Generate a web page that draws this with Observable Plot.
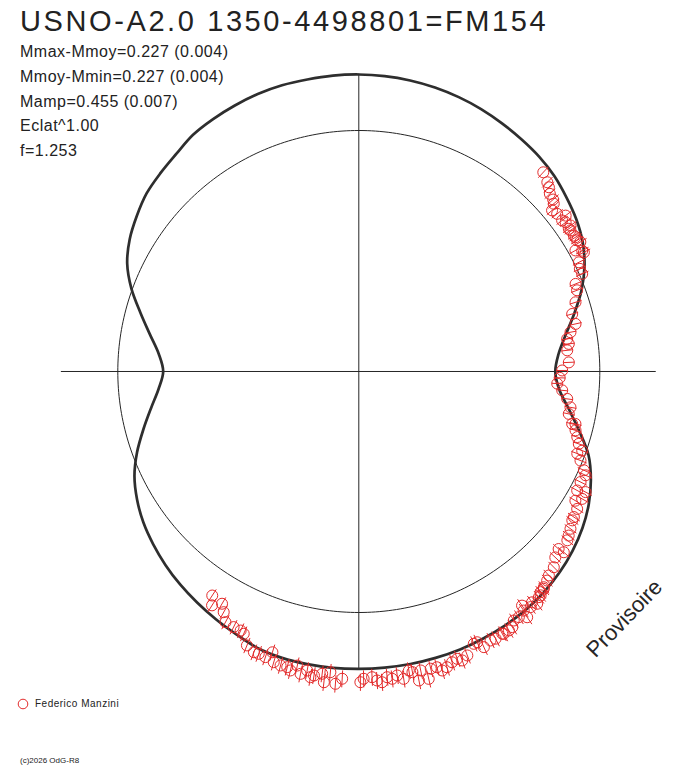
<!DOCTYPE html>
<html>
<head>
<meta charset="utf-8">
<script src="https://cdn.jsdelivr.net/npm/d3@7"></script>
<script src="https://cdn.jsdelivr.net/npm/@observablehq/plot@0.6"></script>
<style>
  html, body { margin: 0; padding: 0; background: #fff; }
  #wrap { position: relative; width: 688px; height: 768px; overflow: hidden; font-family: "Liberation Sans", Arial, sans-serif; color: #222; }
  #chart { position: absolute; left: 0; top: 0; }
  .t { position: absolute; white-space: nowrap; line-height: 1; }
  #title { left: 20px; top: 7px; font-size: 29px; letter-spacing: 2.6px; }
  .stat { left: 20px; font-size: 16px; letter-spacing: 0.5px; }
  #legend { left: 17px; top: 698px; font-size: 10px; letter-spacing: 0.5px; display: flex; align-items: center; }
  #legend svg { margin-right: 6px; }
  #copy { left: 20px; top: 757px; font-size: 8px; }
</style>
</head>
<body>
<div id="wrap">
  <div id="chart"></div>
  <div class="t" id="title"></div>
  <div id="stats"></div>
  <div class="t" id="legend"><svg width="12" height="12"><circle cx="6" cy="6" r="4.8" fill="none" stroke="#e32b2b" stroke-width="1"/></svg><span id="observer"></span></div>
  <div class="t" id="copy"></div>
</div>
<script>
// ---- texts ----
const titleText = "USNO-A2.0 1350-4498801=FM154";
const statLines = ["Mmax-Mmoy=0.227 (0.004)", "Mmoy-Mmin=0.227 (0.004)", "Mamp=0.455 (0.007)", "Eclat^1.00", "f=1.253"];
const observerName = "Federico Manzini";
const copyText = "(c)2026 OdG-R8";
const watermark = "Provisoire";

// ---- fitted light curve: phase (0..1, clockwise from top) and magnitude relative to Mmoy ----
const curvePhase = [0.000,0.0139,0.0278,0.0417,0.0556,0.0694,0.0833,0.0972,0.1111,0.1250,0.1389,0.1528,0.1667,0.1806,0.1944,0.2083,0.2222,0.2361,0.2500,0.2639,0.2778,0.2917,0.3056,0.3194,0.3333,0.3472,0.3611,0.3750,0.3889,0.4028,0.4167,0.4306,0.4444,0.4583,0.4722,0.4861,0.5000,0.5139,0.5278,0.5417,0.5556,0.5694,0.5833,0.5972,0.6111,0.6250,0.6389,0.6528,0.6667,0.6806,0.6944,0.7083,0.7222,0.7361,0.7500,0.7639,0.7778,0.7917,0.8056,0.8194,0.8333,0.8472,0.8611,0.8750,0.8889,0.9028,0.9167,0.9306,0.9444,0.9583,0.9722,0.9861];
const curveMag = [-0.2269,-0.2250,-0.2214,-0.2159,-0.2084,-0.1991,-0.1877,-0.1763,-0.1648,-0.1492,-0.1274,-0.1051,-0.0761,-0.0355,0.0182,0.0843,0.1495,0.1998,0.2217,0.1971,0.1341,0.0602,-0.0157,-0.0656,-0.1051,-0.1354,-0.1590,-0.1783,-0.1934,-0.2047,-0.2121,-0.2177,-0.2225,-0.2250,-0.2269,-0.2276,-0.2280,-0.2284,-0.2276,-0.2250,-0.2177,-0.2009,-0.1858,-0.1705,-0.1550,-0.1373,-0.1173,-0.0949,-0.0656,-0.0289,0.0228,0.0843,0.1444,0.1971,0.2266,0.1982,0.1392,0.0698,-0.0045,-0.0635,-0.1010,-0.1274,-0.1512,-0.1648,-0.1783,-0.1972,-0.2065,-0.2140,-0.2206,-0.2243,-0.2250,-0.2269];

// ---- observations: phase and magnitude relative to Mmoy ----
const obsPhase = [0.1189,0.1247,0.1275,0.1308,0.1347,0.1369,0.1394,0.1431,0.1472,0.1483,0.1506,0.1539,0.1550,0.1564,0.1603,0.1617,0.1639,0.1658,0.1689,0.1711,0.1725,0.1767,0.1808,0.1844,0.1889,0.1933,0.2008,0.2081,0.2156,0.2208,0.2253,0.2292,0.2339,0.2431,0.2492,0.2550,0.2597,0.2647,0.2708,0.2767,0.2817,0.2878,0.2883,0.2922,0.2964,0.3006,0.3042,0.3072,0.3108,0.3158,0.3183,0.3236,0.3278,0.3294,0.3325,0.3356,0.3394,0.3447,0.3469,0.3517,0.3556,0.3583,0.3650,0.3656,0.3706,0.3753,0.3806,0.3833,0.3872,0.3878,0.3903,0.3914,0.3928,0.3958,0.3975,0.3997,0.4031,0.4039,0.4044,0.4081,0.4114,0.4139,0.4164,0.4197,0.4203,0.4247,0.4275,0.4322,0.4344,0.4364,0.4419,0.4453,0.4475,0.4506,0.4539,0.4567,0.4589,0.4622,0.4644,0.4675,0.4694,0.4719,0.4736,0.4769,0.4800,0.4828,0.4853,0.4881,0.4906,0.4931,0.4975,0.4992,0.5086,0.5119,0.5150,0.5178,0.5192,0.5233,0.5250,0.5272,0.5303,0.5328,0.5358,0.5378,0.5414,0.5453,0.5475,0.5503,0.5542,0.5569,0.5617,0.5658,0.5681,0.5725,0.5778,0.5814,0.5847,0.5892,0.5922];
const obsMag = [-0.1294,-0.1116,-0.1019,-0.0861,-0.0803,-0.0706,-0.0467,-0.0544,-0.0782,-0.0540,-0.0613,-0.0706,-0.0566,-0.0587,-0.0587,-0.0609,-0.0600,-0.0681,-0.0319,-0.0570,-0.0600,-0.0210,-0.0121,-0.0125,0.0330,0.0372,0.0627,0.0941,0.0897,0.1225,0.1449,0.1403,0.1521,0.1485,0.1843,0.1971,0.2091,0.1795,0.1485,0.1255,0.1281,0.0848,0.1005,0.0766,0.0598,0.0432,0.0182,0.0349,0.0095,-0.0214,-0.0372,-0.0302,-0.0689,-0.0341,-0.0702,-0.0493,-0.0740,-0.0812,-0.0836,-0.0977,-0.1088,-0.1165,-0.1365,-0.1124,-0.1254,-0.1484,-0.1582,-0.1683,-0.1790,-0.1836,-0.1855,-0.1950,-0.1961,-0.2117,-0.1957,-0.2069,-0.1836,-0.2025,-0.2301,-0.2128,-0.2132,-0.2312,-0.2352,-0.2367,-0.2337,-0.2385,-0.2360,-0.2475,-0.2213,-0.2217,-0.2521,-0.2624,-0.2511,-0.2568,-0.2684,-0.2748,-0.2589,-0.2585,-0.2914,-0.2568,-0.2900,-0.2571,-0.2493,-0.2755,-0.2607,-0.2702,-0.2628,-0.2790,-0.2716,-0.2592,-0.2639,-0.2758,-0.2653,-0.2845,-0.2450,-0.2827,-0.2539,-0.2639,-0.2716,-0.2500,-0.2660,-0.2392,-0.2617,-0.2528,-0.2528,-0.2482,-0.2150,-0.2396,-0.2360,-0.2367,-0.2228,-0.1874,-0.1810,-0.1806,-0.1779,-0.1472,-0.1214,-0.1476,-0.1141];
const obsErr = 0.03;
const maxMag = -0.2284;

// ---- polar helpers (radius = relative flux, Eclat^1.00) ----
const rho = m => Math.pow(10, -0.4 * m);
const px = (ph, m) => rho(m) * Math.sin(2 * Math.PI * ph);
const py = (ph, m) => rho(m) * Math.cos(2 * Math.PI * ph);

const curveIdx = d3.range(curvePhase.length);
const obsIdx = d3.range(obsPhase.length);
const refPhases = d3.range(0, 1.0001, 1 / 360);
const rMax = rho(maxMag);

const ink = "#262626";
const red = "#e32b2b";

const chart = Plot.plot({
  width: 688,
  height: 768,
  margin: 0,
  x: {domain: [-1.4867, 1.3680], axis: null},
  y: {domain: [-1.6473, 1.5394], axis: null},
  marks: [
    Plot.ruleY([0], {x1: -rMax, x2: rMax, stroke: ink, strokeWidth: 1}),
    Plot.ruleX([0], {y1: -rMax, y2: rMax, stroke: ink, strokeWidth: 1}),
    Plot.line(refPhases, {x: p => px(p, 0), y: p => py(p, 0), stroke: ink, strokeWidth: 1}),
    Plot.line(curveIdx, {x: i => px(curvePhase[i], curveMag[i]), y: i => py(curvePhase[i], curveMag[i]), curve: "catmull-rom-closed", stroke: "#2e2e2e", strokeWidth: 2.7}),
    Plot.link(obsIdx, {
      x1: i => px(obsPhase[i], obsMag[i] - obsErr), y1: i => py(obsPhase[i], obsMag[i] - obsErr),
      x2: i => px(obsPhase[i], obsMag[i] + obsErr), y2: i => py(obsPhase[i], obsMag[i] + obsErr),
      stroke: red, strokeWidth: 1
    }),
    Plot.dot(obsIdx, {x: i => px(obsPhase[i], obsMag[i]), y: i => py(obsPhase[i], obsMag[i]), r: 5.5, stroke: red, strokeWidth: 1, fill: "none"}),
    Plot.text([watermark], {frameAnchor: "top-left", dx: 624, dy: 618, rotate: -46, textAnchor: "middle", lineAnchor: "middle", fontSize: 22, fill: ink, fontFamily: "Liberation Sans, Arial, sans-serif", text: d => d})
  ]
});
document.getElementById("chart").appendChild(chart);

document.getElementById("title").textContent = titleText;
const stats = document.getElementById("stats");
statLines.forEach((s, i) => {
  const el = document.createElement("div");
  el.className = "t stat";
  el.style.top = (44 + i * 24.8) + "px";
  el.textContent = s;
  stats.appendChild(el);
});
document.getElementById("observer").textContent = observerName;
document.getElementById("copy").textContent = copyText;
</script>
</body>
</html>
